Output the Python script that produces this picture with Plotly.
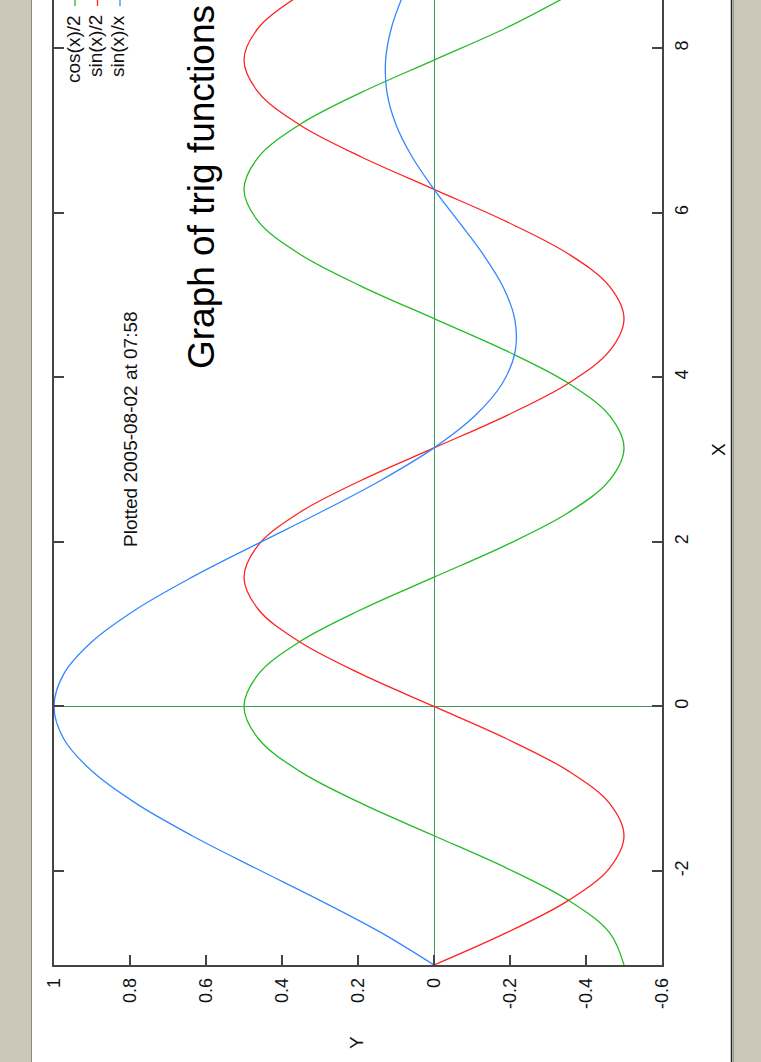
import plotly.graph_objects as go

# ---- data ----
X_VALS = [-3.1416, -2.7489, -2.3562, -1.9635, -1.5708, -1.1781, -0.7854, -0.3927,
          0.0, 0.3927, 0.7854, 1.1781, 1.5708, 1.9635, 2.3562, 2.7489,
          3.1416, 3.5343, 3.9270, 4.3197, 4.7124, 5.1051, 5.4978, 5.8905,
          6.2832, 6.6759, 7.0686, 7.4613, 7.8540, 8.2467, 8.6394]
COS_HALF = [-0.5, -0.462, -0.354, -0.191, 0.0, 0.191, 0.354, 0.462,
            0.5, 0.462, 0.354, 0.191, 0.0, -0.191, -0.354, -0.462,
            -0.5, -0.462, -0.354, -0.191, 0.0, 0.191, 0.354, 0.462,
            0.5, 0.462, 0.354, 0.191, 0.0, -0.191, -0.354]
SIN_HALF = [0.0, -0.191, -0.354, -0.462, -0.5, -0.462, -0.354, -0.191,
            0.0, 0.191, 0.354, 0.462, 0.5, 0.462, 0.354, 0.191,
            0.0, -0.191, -0.354, -0.462, -0.5, -0.462, -0.354, -0.191,
            0.0, 0.191, 0.354, 0.462, 0.5, 0.462, 0.354]
SINC = [0.0, 0.1392, 0.3001, 0.4705, 0.6366, 0.7842, 0.9003, 0.9745,
        1.0, 0.9745, 0.9003, 0.7842, 0.6366, 0.4705, 0.3001, 0.1392,
        0.0, -0.1083, -0.1801, -0.2139, -0.2122, -0.1810, -0.1286, -0.0650,
        0.0, 0.0573, 0.1000, 0.1238, 0.1273, 0.1120, 0.0818]

SERIES_NAMES = ["cos(x)/2", "sin(x)/2", "sin(x)/x"]
SERIES_COLORS = ["#22bb22", "#ff2222", "#3388ff"]

Y_TICKS = [1, 0.8, 0.6, 0.4, 0.2, 0, -0.2, -0.4, -0.6]
Y_TICK_TEXT = ["1", "0.8", "0.6", "0.4", "0.2", "0", "-0.2", "-0.4", "-0.6"]
X_TICKS = [-2, 0, 2, 4, 6, 8]
X_TICK_TEXT = ["-2", "0", "2", "4", "6", "8"]

TITLE = "Graph of trig functions"
STAMP = "Plotted 2005-08-02 at 07:58"

# ---- layout geometry ----
W, H = 761, 1062
L, R, T, B = 54, 99, 0, 97
PW, PH = W - L - R, H - T - B
FONT = "Liberation Sans, Arial, sans-serif"


def px(xp):
    return (xp - L) / PW


def py(yp):
    return (T + PH - yp) / PH


fig = go.Figure()
for vals, name, col in zip([COS_HALF, SIN_HALF, SINC], SERIES_NAMES, SERIES_COLORS):
    fig.add_trace(go.Scatter(x=vals, y=X_VALS, mode="lines", name=name,
                             line=dict(color=col, width=1.3, shape="spline"),
                             showlegend=False, hoverinfo="skip"))

ann = []
# legend (rotated)
for i, (name, col) in enumerate(zip(SERIES_NAMES, SERIES_COLORS)):
    ann.append(dict(text=name, x=px(74 + 22 * i), y=py(13), xref="paper", yref="paper",
                    xanchor="center", yanchor="top", textangle=-90, showarrow=False,
                    font=dict(family=FONT, size=19, color="#111")))
ann.append(dict(text=TITLE, x=px(202), y=py(371), xref="paper", yref="paper",
                xanchor="center", yanchor="bottom", textangle=-90, showarrow=False,
                font=dict(family=FONT, size=37, color="#000")))
ann.append(dict(text=STAMP, x=px(130), y=py(549), xref="paper", yref="paper",
                xanchor="center", yanchor="bottom", textangle=-90, showarrow=False,
                font=dict(family=FONT, size=19, color="#111")))
ann.append(dict(text="Y", x=px(356), y=py(1043), xref="paper", yref="paper",
                xanchor="center", yanchor="middle", textangle=-90, showarrow=False,
                font=dict(family=FONT, size=19, color="#111")))
ann.append(dict(text="X", x=px(718), y=py(450), xref="paper", yref="paper",
                xanchor="center", yanchor="middle", textangle=-90, showarrow=False,
                font=dict(family=FONT, size=19, color="#111")))

shapes = []
# legend sample lines
for i, col in enumerate(SERIES_COLORS):
    xs = px(75 + 22.5 * i)
    shapes.append(dict(type="line", xref="paper", yref="paper", x0=xs, x1=xs,
                       y0=py(0), y1=py(6), line=dict(color=col, width=1.3)))
# window side bands
BAND = "#cbc7b8"
shapes.append(dict(type="rect", xref="paper", yref="paper", x0=px(-2), x1=px(31.5),
                   y0=py(H + 2), y1=py(-2), fillcolor=BAND, line=dict(width=0), layer="above"))
shapes.append(dict(type="line", xref="paper", yref="paper", x0=px(31.5), x1=px(31.5),
                   y0=py(H + 2), y1=py(-2), line=dict(color="#8a8a82", width=1), layer="above"))
shapes.append(dict(type="rect", xref="paper", yref="paper", x0=px(732.5), x1=px(W + 2),
                   y0=py(H + 2), y1=py(-2), fillcolor=BAND, line=dict(width=0), layer="above"))
shapes.append(dict(type="line", xref="paper", yref="paper", x0=px(731.5), x1=px(731.5),
                   y0=py(H + 2), y1=py(-2), line=dict(color="#222", width=1.5), layer="above"))
shapes.append(dict(type="line", xref="paper", yref="paper", x0=px(733.5), x1=px(733.5),
                   y0=py(H + 2), y1=py(-2), line=dict(color="#9a9a92", width=1), layer="above"))

fig.update_layout(
    width=W, height=H,
    margin=dict(l=L, r=R, t=T, b=B, pad=0),
    paper_bgcolor="white", plot_bgcolor="white",
    annotations=ann, shapes=shapes,
    font=dict(family=FONT, size=18, color="#111"),
    xaxis=dict(range=[1, -0.6], tickvals=Y_TICKS, ticktext=Y_TICK_TEXT,
               tickangle=-90, ticks="inside", ticklen=10, tickwidth=1.5, tickcolor="#444",
               showline=True, linecolor="#444", linewidth=1.5, mirror=False,
               showgrid=False, zeroline=True, zerolinecolor="#3d9b5f", zerolinewidth=1.3,
               ticklabelstandoff=4, tickfont=dict(family=FONT, size=18, color="#111")),
    yaxis=dict(range=[-3.14159, 8.584], tickvals=X_TICKS, ticktext=X_TICK_TEXT, side="right",
               tickangle=-90, ticks="inside", ticklen=10, tickwidth=1.5, tickcolor="#444",
               showline=True, linecolor="#444", linewidth=1.5, mirror="ticks",
               showgrid=False, zeroline=True, zerolinecolor="#3d9b5f", zerolinewidth=1.3,
               ticklabelstandoff=3, tickfont=dict(family=FONT, size=18, color="#111")),
)

fig.write_html("out.html", config={"displayModeBar": False},
               post_script="document.body.style.margin='0px';document.body.style.overflow='hidden';")
